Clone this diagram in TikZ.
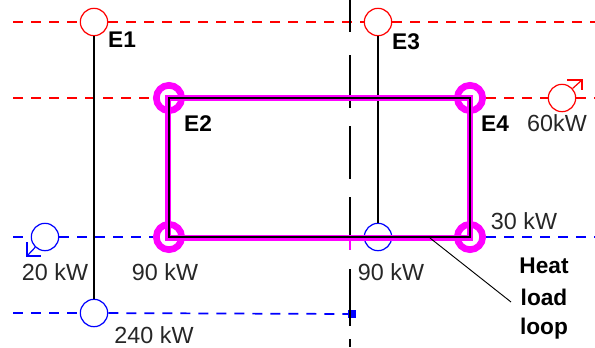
\documentclass[tikz,border=0pt]{standalone}
\usepackage{fontspec}
\setmainfont{Liberation Sans}
\usepackage{tikz}
\tikzstyle{stream} = [line width=1.3pt,dash pattern=on 7.5pt off 6pt]
\tikzstyle{unit} = [circle,draw,fill=none,inner sep=0pt,minimum size=20.5pt,line width=0.9pt]
\tikzstyle{loopunit} = [circle,draw=magenta,inner sep=0pt,minimum size=19pt,line width=5pt]
\tikzstyle{pipe} = [black,line width=1.2pt]
\tikzstyle{duty} = [font=\fontsize{17.5}{19}\selectfont,text=black!85,inner sep=0pt]
\tikzstyle{tag} = [font=\fontsize{17}{19}\selectfont\bfseries,inner sep=0pt]
\definecolor{magenta}{RGB}{255,0,255}
\begin{document}
\begin{tikzpicture}[x=0.75pt,y=-0.75pt]
    \useasboundingbox (0,0) rectangle (595,347);
    % stream ends
    \coordinate (hotAw) at (13,22);
    \coordinate (hotAe) at (595,22);
    \coordinate (hotBw) at (13,98);
    \coordinate (hotBe) at (595,98);
    \coordinate (coldAw) at (13,237);
    \coordinate (coldAe) at (595,237);
    \coordinate (coldBw) at (13,313);
    \coordinate (coldBe) at (352,314);
    % units
    \node[unit,red] (E1) at (94,22) {};
    \node[unit,red] (E3) at (378,22) {};
    \node[unit,red] (cooler) at (562,98) {};
    \node[unit,blue] (heater) at (45,237) {};
    \node[unit,blue] (E1c) at (94,313) {};
    \node[unit,blue] (E3c) at (378,237) {};
    \node[loopunit] (E2) at (169,98) {};
    \node[loopunit] (E4) at (470,98) {};
    \node[loopunit] (E2c) at (169,237) {};
    \node[loopunit] (E4c) at (470,237) {};
    % hot streams
    \draw[stream,red] (hotAw) -- (E1);
    \draw[stream,red] (E1) -- (E3);
    \draw[stream,red] (E3) -- (hotAe);
    \draw[stream,red] (hotBw) -- (E2);
    \draw[stream,red] (E4) -- (cooler);
    \draw[stream,red] (cooler) -- (hotBe);
    % cold streams
    \draw[stream,blue] (coldAw) -- (heater);
    \draw[stream,blue] (heater) -- (E2c);
    \draw[stream,blue] (E4c) -- (coldAe);
    \draw[stream,blue] (coldBw) -- (E1c);
    \draw[stream,blue] (E1c) -- (coldBe);
    \fill[blue] (348,310) rectangle (356,318);
    % pinch line
    \foreach \a/\b in {0/32,55/108,126/179,197/240,269/326,339/347}
        \draw[pipe] (350,\a) -- (350,\b);
    \draw[magenta,line width=1.1pt] (350,240) -- (350,250);
    % matches
    \draw[pipe] (E1) -- (E1c);
    \draw[pipe] (E3) -- (E3c);
    % heat load loop
    \draw[magenta,line width=3.8pt] ([shift={(-1,0)}]E2.center) -- (E4.center) -- ([shift={(0,1)}]E4c.center) -- ([shift={(-1,1)}]E2c.center) -- cycle;
    \draw[black,line width=1.9pt] (E2.center) -- (E4.center) -- (E4c.center) -- (E2c.center) -- cycle;
    % cooler and heater arrows
    \coordinate (coolertip) at (582,80);
    \coordinate (heatertip) at (27,256);
    \draw[red,line width=0.9pt] (cooler) -- (coolertip);
    \draw[red,line width=0.9pt] (567,80) -- (coolertip) -- (582,90);
    \draw[blue,line width=0.9pt] (heater) -- (heatertip);
    \draw[blue,line width=0.9pt] (27,242) -- (heatertip) -- (41,256);
    % leader
    \coordinate (loopfoot) at (430,238);
    \coordinate (loopend) at (511,302);
    \draw[black,line width=0.7pt] (loopfoot) -- (loopend);
    % labels
    \node[tag] (E1lab) at (122,40) {E1};
    \node[tag] (E2lab) at (198,124) {E2};
    \node[tag] (E3lab) at (406,42) {E3};
    \node[tag] (E4lab) at (495,124) {E4};
    \node[duty] (q60) at (557,123) {60kW};
    \node[duty] (q20) at (55,272) {20 kW};
    \node[duty] (q90a) at (165,272) {90 kW};
    \node[duty] (q240) at (154,335) {240 kW};
    \node[duty] (q90b) at (391,272) {90 kW};
    \node[duty] (q30) at (524,221) {30 kW};
    \node[tag] (heat) at (544,266) {Heat};
    \node[tag] (load) at (544,297) {load};
    \node[tag] (loopname) at (544,329) {loop};
\end{tikzpicture}
\end{document}
